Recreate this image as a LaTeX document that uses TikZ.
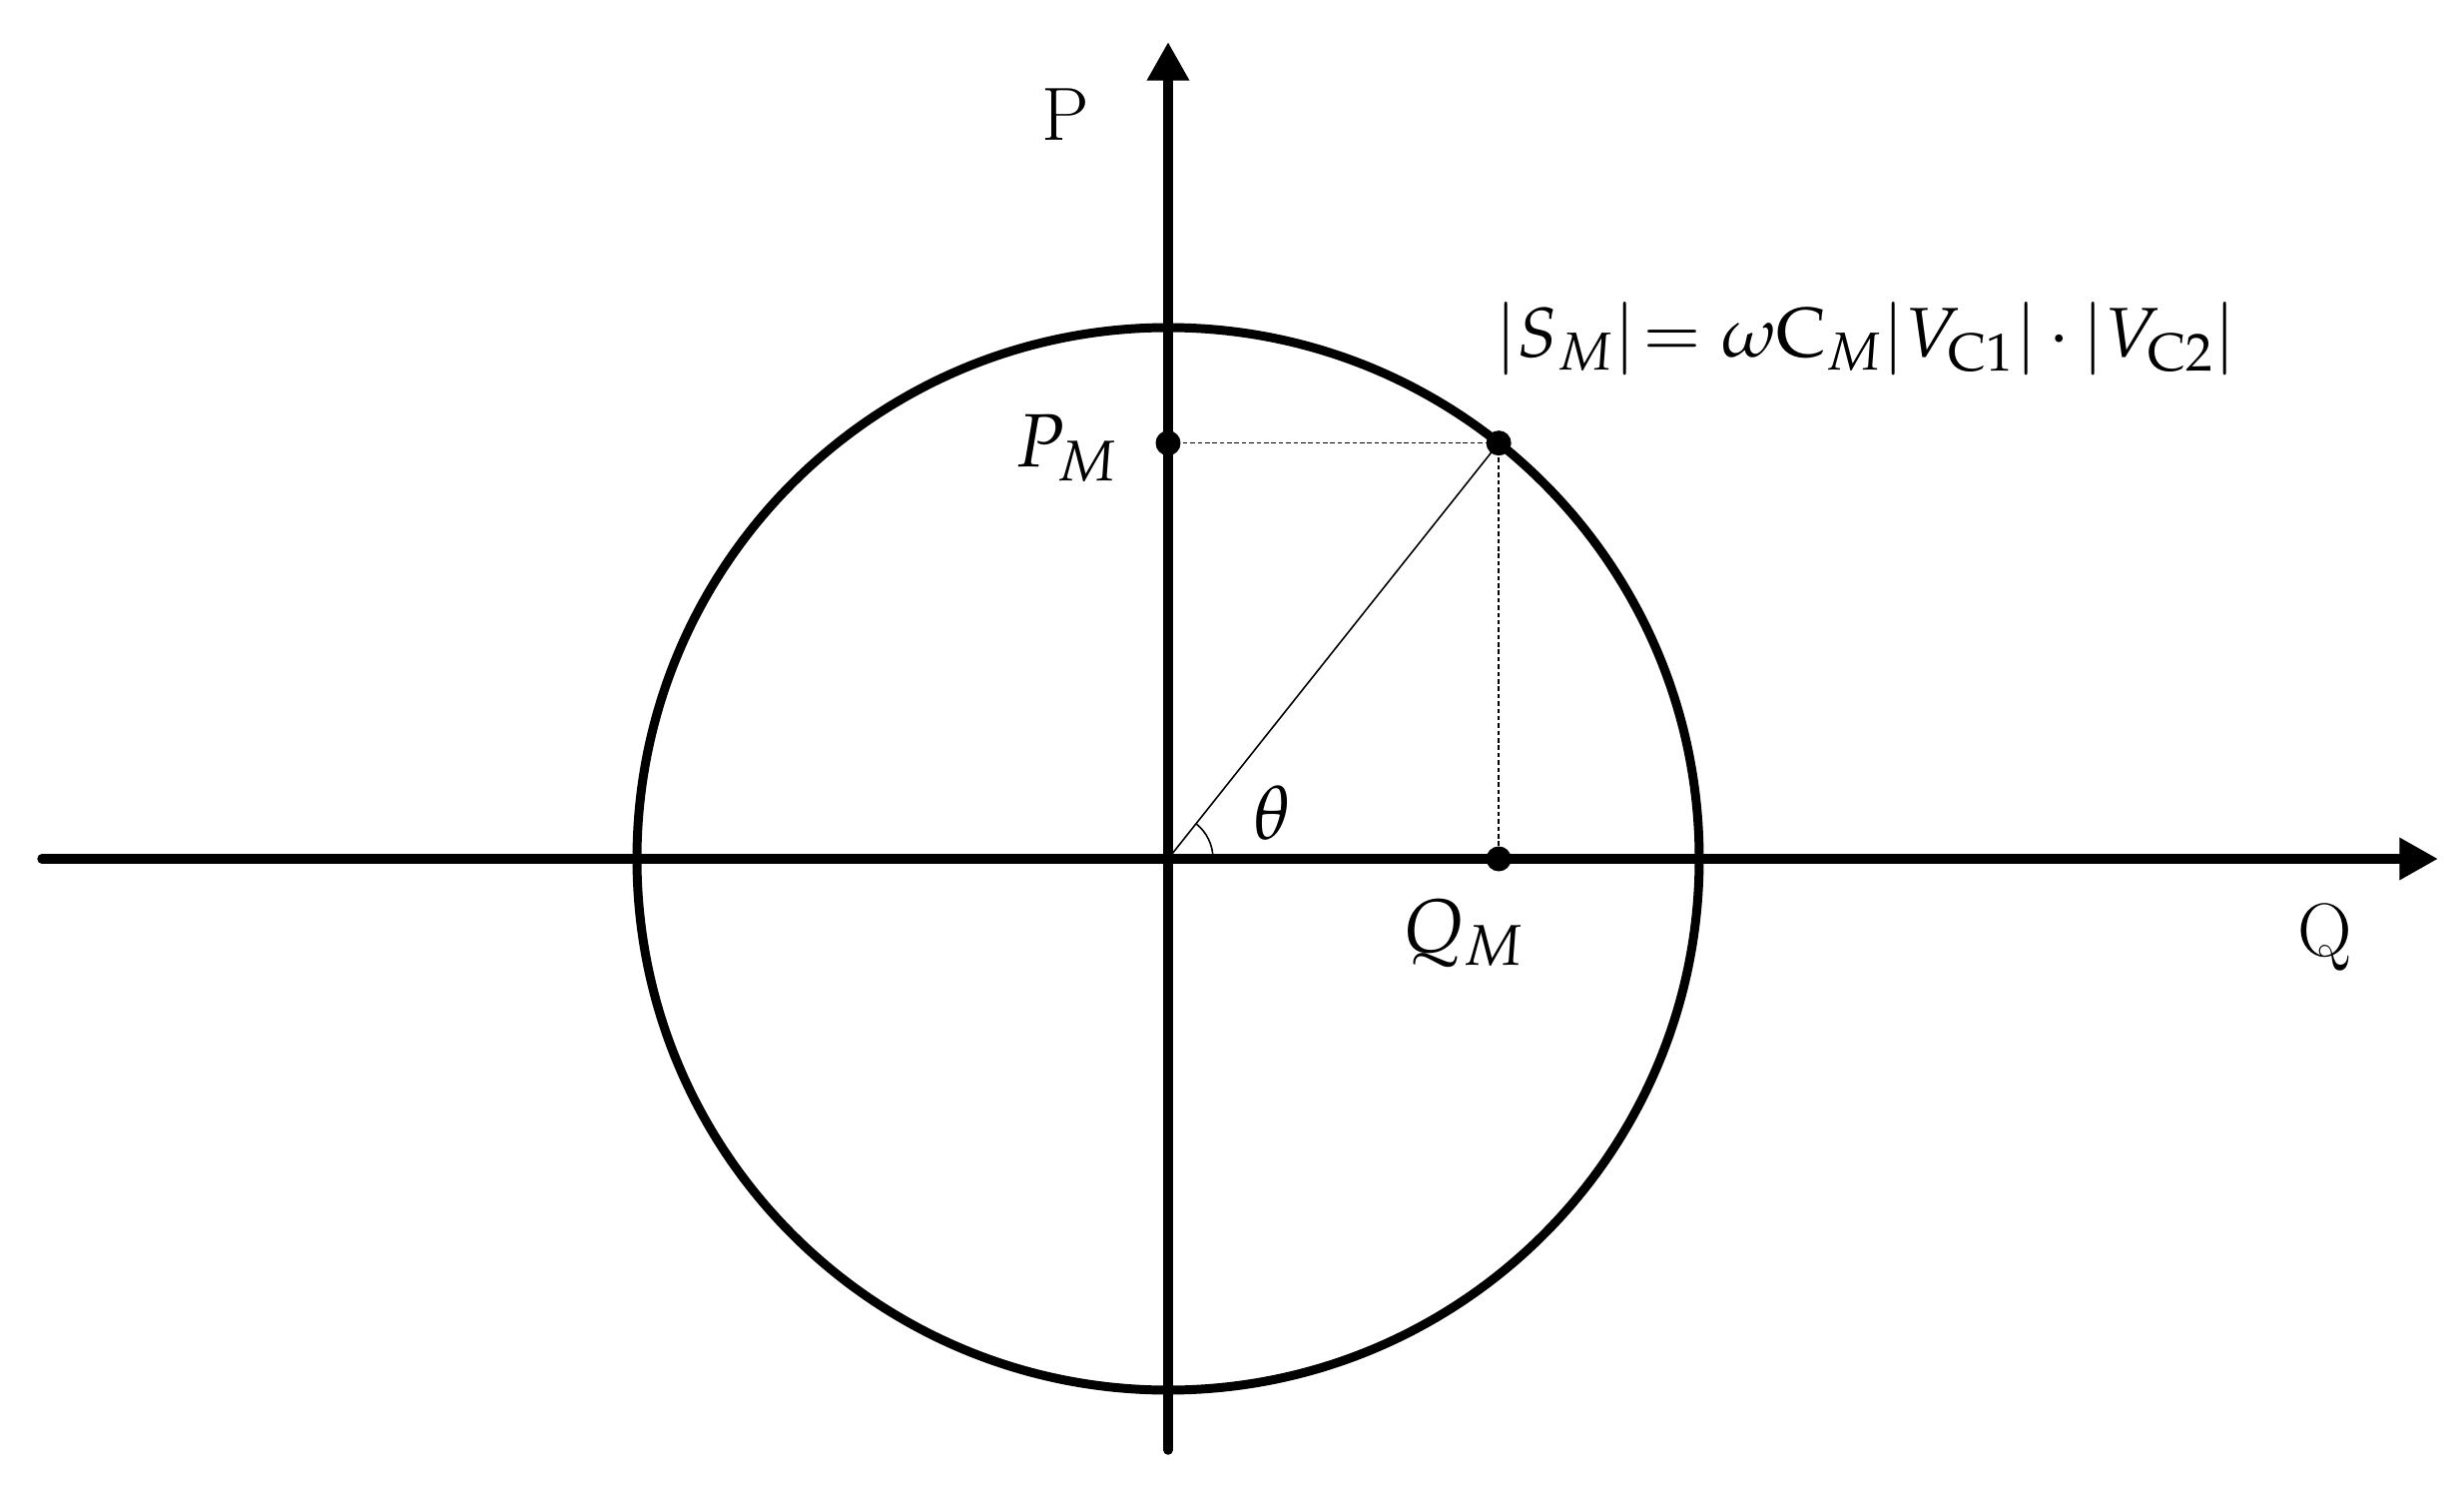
\documentclass[tikz,border=0pt]{standalone}
\usepackage{mathpazo}
\usetikzlibrary{arrows.meta}
\begin{document}
\begin{tikzpicture}[x=0.01cm,y=-0.01cm,
  axis/.style={line width=2.7pt, line cap=round, -{Triangle[length=11pt,width=11.4pt]}},
  circ/.style={line width=2.55pt},
  thinline/.style={line width=0.45pt},
  dashline/.style={line width=0.45pt, dash pattern=on 1.3pt off 0.8pt},
  dot/.style={fill=black},
  lbl/.style={inner sep=0pt, font=\fontsize{21.5}{26}\selectfont},
  formula/.style={inner sep=0pt, font=\fontsize{20}{24}\selectfont}]
\useasboundingbox (0,0) rectangle (2468,1491);
\coordinate (O) at (1170,860);
\coordinate (L) at (42,860);
\coordinate (R) at (2442,860);
\coordinate (B) at (1170,1452);
\coordinate (T) at (1170,42);
\coordinate (A) at ({1170+532*cos(51.5)},{860-532*sin(51.5)});
\coordinate (PM) at (O |- A);
\coordinate (QM) at (A |- O);
% circle
\draw[circ] (O) circle[radius=532];
% axes
\draw[axis] (L) -- (R);
\draw[axis] (B) -- (T);
% construction lines
\draw[thinline] (O) -- (A);
\draw[dashline] (PM) -- (A);
\draw[dashline] (A) -- (QM);
\draw[thinline] ([shift={(45,0)}]O) arc[start angle=0, end angle=-51.5, radius=45];
% dots
\fill[dot] (A) circle[radius=12.5];
\fill[dot] (PM) circle[radius=12.5];
\fill[dot] (QM) circle[radius=12.5];
% labels
\node[lbl, anchor=base] (lP) at (1067,141) {P};
\node[lbl, anchor=base] (lQ) at (2329,957) {Q};
\node[lbl, anchor=base east] (lPM) at (1120,468) {$P_M$};
\node[lbl, anchor=base] (lQM) at (1466,953) {$Q_M$};
\node[lbl, anchor=base] (lth) at (1274,840) {$\theta$};
\node[formula, anchor=base west] (lS) at (1497,358) {$|S_M|\!=\omega\mathrm{C}_M|V_{\mathrm{C}1}|\,{\cdot}\,|V_{\mathrm{C}2}|$};
\end{tikzpicture}
\end{document}
